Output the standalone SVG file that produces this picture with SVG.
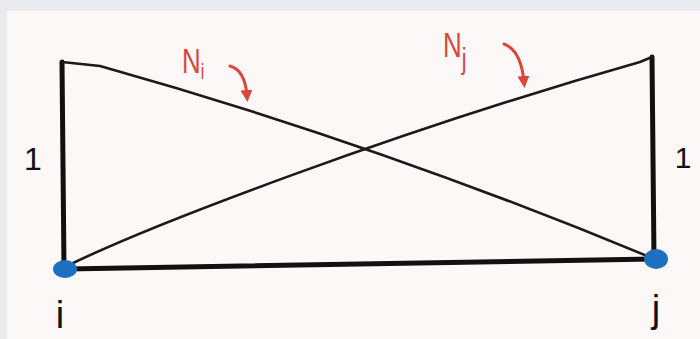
<svg xmlns="http://www.w3.org/2000/svg" width="700" height="339" viewBox="0 0 700 339">
  <style>
    .thick { fill: none; stroke: #111; stroke-width: 5; stroke-linecap: round; stroke-linejoin: round; }
    .thin { fill: none; stroke: #1a1a1a; stroke-width: 2.6; stroke-linecap: round; }
    .red { fill: none; stroke: #d9473d; stroke-width: 3; stroke-linecap: round; }
    .redtext { fill: #d9473d; font-family: "Liberation Sans", Arial, sans-serif; }
    .blk { fill: #111; font-family: "Liberation Sans", Arial, sans-serif; }
    .dot { fill: #1f6fc0; }
  </style>
  <defs>
    <marker id="ah" viewBox="0 0 10 10" refX="5" refY="5" markerWidth="4" markerHeight="4" orient="auto">
      <path d="M0,0 L10,5 L0,10 Z" fill="#d9473d"/>
    </marker>
  </defs>
  <rect x="0" y="0" width="700" height="339" fill="#e9eaee"/>
  <rect x="7" y="11" width="693" height="328" fill="#fbf8f7"/>

  <g id="connectors">
    <path class="thick" d="M62,62 L64,268"/>
    <path class="thick" d="M652,57 L654,258"/>
    <path class="thick" d="M66,269 L654,259"/>
    <path class="thin" d="M62,62 L100,66 Q375,143 652,258"/>
    <path class="thin" d="M67,266 C150,225 400,130 640,62 L652,57"/>
  </g>

  <g id="node-i">
    <ellipse class="dot" cx="65" cy="269" rx="12" ry="9"/>
    <text class="blk" x="33" y="170" font-size="32" text-anchor="middle">1</text>
    <text class="blk" x="60" y="328" font-size="38" text-anchor="middle">i</text>
  </g>

  <g id="node-j">
    <ellipse class="dot" cx="656" cy="259" rx="12" ry="10"/>
    <text class="blk" x="683" y="168" font-size="30" text-anchor="middle">1</text>
    <text class="blk" x="656" y="322" font-size="38" text-anchor="middle">j</text>
  </g>

  <g id="label-Ni">
    <text class="redtext" x="182" y="73" font-size="36" transform="translate(182,0) scale(0.72,1) translate(-182,0)">N<tspan font-size="22" dy="6">i</tspan></text>
    <path class="red" d="M230,66 Q245,70 247,96" marker-end="url(#ah)"/>
  </g>

  <g id="label-Nj">
    <text class="redtext" x="443" y="57" font-size="36" transform="translate(443,0) scale(0.72,1) translate(-443,0)">N<tspan font-size="30" dy="12">j</tspan></text>
    <path class="red" d="M504,44 Q521,50 524,82" marker-end="url(#ah)"/>
  </g>
</svg>
